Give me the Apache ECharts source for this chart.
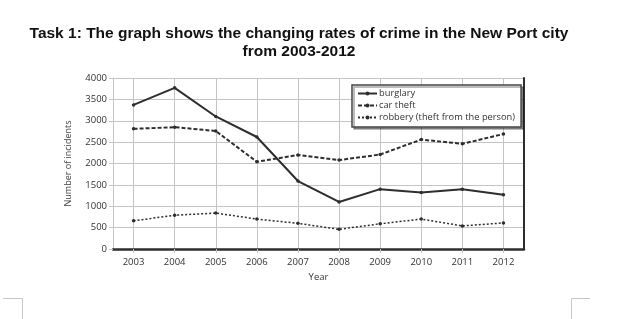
<!DOCTYPE html>
<html>
<head>
<meta charset="utf-8">
<script src="https://cdn.jsdelivr.net/npm/echarts@6/dist/echarts.min.js"></script>
<style>
  html, body { margin: 0; padding: 0; background: #fff; }
  #chart { width: 624px; height: 319px; }
</style>
</head>
<body>
<div id="chart"></div>
<script>
// crime figures, New Port city
const years = ['2003', '2004', '2005', '2006', '2007', '2008', '2009', '2010', '2011', '2012']
const burglary = [3370, 3770, 3100, 2620, 1590, 1100, 1400, 1320, 1400, 1270]
const carTheft = [2810, 2850, 2760, 2040, 2200, 2080, 2210, 2560, 2460, 2690]
const robbery = [660, 790, 840, 700, 600, 460, 590, 700, 540, 610]

const ink = '#2e2e2e'
const gridColor = '#c4c4c4'
const font = 'Open Sans'

// helper axis with half-step positions so the vertical grid sits on each year
const halfSteps = ['']
years.forEach(y => { halfSteps.push(y, '') })

const chart = echarts.init(document.getElementById('chart'))

const lineSeries = (name, data, type, width) => ({
  name,
  type: 'line',
  data,
  symbol: 'circle',
  symbolSize: 3.5,
  showSymbol: true,
  itemStyle: { color: ink },
  lineStyle: { color: ink, width, type },
  emphasis: { disabled: true },
  z: 5
})

chart.setOption({
  animation: false,
  title: {
    text: 'Task 1: The graph shows the changing rates of crime in the New Port city\nfrom 2003-2012',
    left: 294,
    top: 20,
    textAlign: 'center',
    textStyle: {
      fontFamily: 'Liberation Sans',
      fontWeight: 'bold',
      fontSize: 15.5,
      lineHeight: 18,
      color: '#111'
    }
  },
  legend: {
    orient: 'vertical',
    left: 352,
    top: 85,
    padding: [4, 6, 5, 5],
    itemGap: 3,
    itemWidth: 19,
    itemHeight: 5,
    backgroundColor: '#fff',
    borderColor: '#444',
    borderWidth: 1.5,
    shadowColor: 'rgba(0,0,0,0.35)',
    shadowOffsetX: 2,
    shadowOffsetY: 2,
    shadowBlur: 0,
    textStyle: { fontFamily: font, fontSize: 9.3, color: '#333', padding: [0, 0, 0, -3] },
    data: ['burglary', 'car theft', 'robbery (theft from the person)']
  },
  grid: { left: 113, right: 100, top: 78, bottom: 70 },
  xAxis: [
    {
      type: 'category',
      data: years,
      boundaryGap: true,
      name: 'Year',
      nameLocation: 'middle',
      nameGap: 16,
      nameTextStyle: { fontFamily: font, fontSize: 9.5, color: '#333' },
      axisLine: { lineStyle: { color: ink, width: 2.5 } },
      axisTick: { show: true, alignWithLabel: true, length: 4, lineStyle: { color: gridColor } },
      axisLabel: { fontFamily: font, fontSize: 9.5, color: '#333', margin: 8 },
      splitLine: { show: false }
    },
    {
      type: 'category',
      data: halfSteps,
      boundaryGap: false,
      position: 'bottom',
      axisLine: { show: false },
      axisTick: { show: false },
      axisLabel: { show: false },
      splitLine: {
        show: true,
        interval: (i) => i % 2 === 1,
        lineStyle: { color: gridColor, width: 1 }
      }
    }
  ],
  yAxis: [
    {
      type: 'value',
      min: 0,
      max: 4000,
      interval: 500,
      name: 'Number of incidents',
      nameLocation: 'middle',
      nameGap: 40,
      nameTextStyle: { fontFamily: font, fontSize: 9, color: '#444' },
      axisLine: { show: true, lineStyle: { color: gridColor, width: 1 } },
      axisTick: { show: true, length: 4, lineStyle: { color: gridColor } },
      axisLabel: { fontFamily: font, fontSize: 9.5, color: '#333', margin: 6, formatter: (v) => String(v) },
      splitLine: { show: true, lineStyle: { color: gridColor, width: 1 } }
    },
    {
      type: 'value',
      min: 0,
      max: 4000,
      interval: 500,
      position: 'right',
      axisLine: { show: true, lineStyle: { color: ink, width: 2 } },
      axisTick: { show: false },
      axisLabel: { show: false },
      splitLine: { show: false }
    }
  ],
  graphic: [
    {
      type: 'polyline',
      shape: { points: [[3, 298.5], [22.5, 298.5], [22.5, 319]] },
      style: { stroke: '#c8c8c8', lineWidth: 1, fill: null }
    },
    {
      type: 'polyline',
      shape: { points: [[590, 298.5], [571.5, 298.5], [571.5, 319]] },
      style: { stroke: '#c8c8c8', lineWidth: 1, fill: null }
    }
  ],
  series: [
    lineSeries('burglary', burglary, 'solid', 2),
    lineSeries('car theft', carTheft, [4, 2], 2),
    lineSeries('robbery (theft from the person)', robbery, [2, 2], 1.5)
  ]
})
</script>
</body>
</html>
